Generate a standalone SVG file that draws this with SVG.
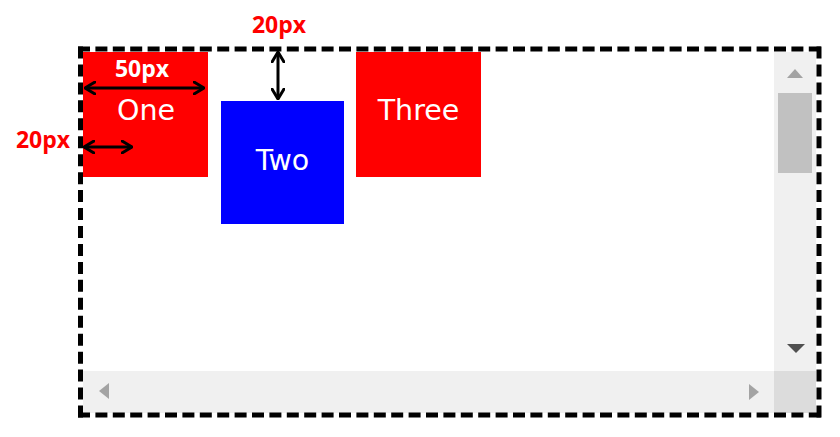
<svg xmlns="http://www.w3.org/2000/svg" width="840" height="437" viewBox="0 0 840 437">
  <style>
    .box-text { font-family: "DejaVu Sans", "Noto Sans", sans-serif; font-size: 28.5px; fill: #ffffff; text-anchor: middle; }
    .dim-red { font-family: "Open Sans", "Liberation Sans", Arial, sans-serif; font-weight: bold; font-size: 23px; fill: #ff0000; text-anchor: middle; }
    .dim-white { font-family: "Open Sans", "Liberation Sans", Arial, sans-serif; font-weight: bold; font-size: 23px; fill: #ffffff; text-anchor: middle; }
    .border { stroke: #000000; stroke-width: 5; fill: none; }
    .dim { stroke: #000000; stroke-width: 3; fill: none; marker-start: url(#chev); marker-end: url(#chev); }
    .track { fill: #f0f0f0; }
    .sb-arrow { fill: #a3a3a3; }
  </style>
  <defs>
    <marker id="chev" viewBox="0 0 12 14" refX="11" refY="7" markerWidth="12" markerHeight="14" markerUnits="userSpaceOnUse" orient="auto-start-reverse">
      <path d="M1,1 L11,7 L1,13" fill="none" stroke="#000000" stroke-width="3" stroke-linecap="round" stroke-linejoin="round"/>
    </marker>
  </defs>
  <rect width="840" height="437" fill="#ffffff"/>

  <!-- scrollbars -->
  <rect class="track" x="774" y="52" width="42" height="320"/>
  <rect class="track" x="83" y="371" width="691" height="42"/>
  <rect x="774" y="371" width="42" height="42" fill="#dcdcdc"/>
  <rect x="778" y="93" width="34" height="80" fill="#c1c1c1"/>
  <polygon class="sb-arrow" points="787,78 795,69 803,78"/>
  <polygon points="787,344 796,353 805,344" fill="#505050"/>
  <polygon class="sb-arrow" points="99,391 109,383 109,399"/>
  <polygon class="sb-arrow" points="759,392 749,384 749,400"/>

  <!-- dashed container border -->
  <g id="container">
    <line class="border" x1="78" y1="49" x2="821" y2="49" stroke-dasharray="12 5.4"/>
    <line class="border" x1="80.5" y1="46.5" x2="80.5" y2="417.5" stroke-dasharray="12 5.95"/>
    <line class="border" x1="819" y1="46.5" x2="819" y2="417.5" stroke-dasharray="12 5.95"/>
    <line class="border" x1="78" y1="415" x2="821" y2="415" stroke-dasharray="12 5.4"/>
  </g>

  <g id="one">
    <rect x="83" y="52" width="125" height="125" fill="#ff0000"/>
    <text class="box-text" x="146" y="120">One</text>
  </g>
  <g id="two">
    <rect x="221" y="101" width="123" height="123" fill="#0000ff"/>
    <text class="box-text" x="282.5" y="170">Two</text>
  </g>
  <g id="three">
    <rect x="356" y="52" width="125" height="125" fill="#ff0000"/>
    <text class="box-text" x="418.5" y="120">Three</text>
  </g>

  <g id="connectors">
    <line class="dim" x1="85" y1="88" x2="204" y2="88"/>
    <line class="dim" x1="84" y1="147" x2="132" y2="147"/>
    <line class="dim" x1="278" y1="52" x2="278" y2="99"/>
  </g>

  <g id="labels">
    <text class="dim-white" x="142" y="77">50px</text>
    <text class="dim-red" x="279" y="33">20px</text>
    <text class="dim-red" x="43" y="148">20px</text>
  </g>
</svg>
